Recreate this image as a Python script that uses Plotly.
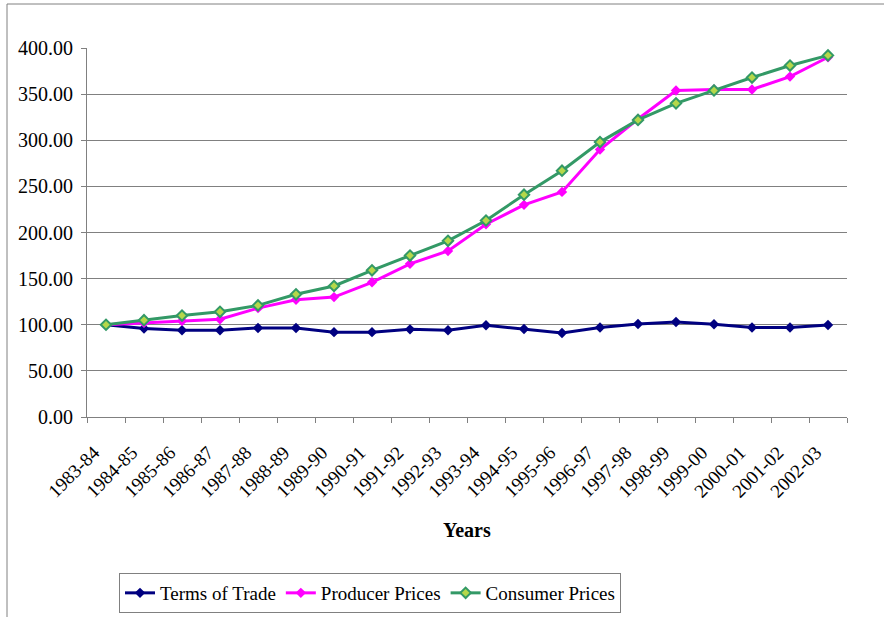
import plotly.graph_objects as go

years = ["1983-84", "1984-85", "1985-86", "1986-87", "1987-88", "1988-89", "1989-90",
         "1990-91", "1991-92", "1992-93", "1993-94", "1994-95", "1995-96", "1996-97",
         "1997-98", "1998-99", "1999-00", "2000-01", "2001-02", "2002-03"]

terms_of_trade = [100, 96, 94, 94, 96.5, 96.5, 92, 92, 95, 94, 99.4, 95.4, 91, 97,
                  100.8, 103, 100.5, 97, 97, 99.7]
producer_prices = [100, 102, 104, 106, 118, 127, 130, 146, 166, 180, 209, 230, 244, 290,
                   323, 354, 355, 355, 369, 390]
consumer_prices = [100, 105, 110, 114, 121, 133, 142, 159, 175, 191, 213, 241, 267, 298,
                   322, 340, 354, 368, 381, 392]

y_ticks = [0, 50, 100, 150, 200, 250, 300, 350, 400]

W, H = 884, 617
L, R, T, B = 87, 37, 48, 200
pw, ph = W - L - R, H - T - B

font = "Liberation Serif, Times New Roman, serif"

fig = go.Figure()
fig.add_trace(go.Scatter(
    x=years, y=terms_of_trade, name="Terms of Trade", mode="lines+markers",
    line=dict(color="#000080", width=3),
    marker=dict(symbol="diamond", size=8, color="#000080")))
fig.add_trace(go.Scatter(
    x=years, y=producer_prices, name="Producer Prices", mode="lines+markers",
    line=dict(color="#FF00FF", width=3),
    marker=dict(symbol="diamond", size=8, color="#FF00FF")))
fig.add_trace(go.Scatter(
    x=years, y=consumer_prices, name="Consumer Prices", mode="lines+markers",
    line=dict(color="#339966", width=3),
    marker=dict(symbol="diamond", size=8, color="#B5D84A",
                line=dict(color="#339966", width=2))))

def px_to_paper_x(px):
    return (px - L) / pw

def px_to_paper_y(py):
    return (H - B - py) / ph

fig.update_layout(
    width=W, height=H,
    margin=dict(l=L, r=R, t=T, b=B, autoexpand=False),
    paper_bgcolor="white", plot_bgcolor="white",
    font=dict(family=font, size=18, color="black"),
    showlegend=True,
    legend=dict(
        orientation="h", x=px_to_paper_x(119), xanchor="left",
        y=px_to_paper_y(573), yanchor="top",
        bordercolor="#808080", borderwidth=1,
        font=dict(family=font, size=19, color="black"),
        itemwidth=30, tracegroupgap=0,
    ),
    xaxis=dict(
        type="category", range=[-0.5, len(years) - 0.5],
        tickangle=-45, tickson="boundaries",
        ticks="outside", ticklen=5, tickcolor="#808080",
        ticklabelstandoff=16, ticklabelshift=-12,
        showline=True, linecolor="#808080", linewidth=1,
        showgrid=False, tickfont=dict(family=font, size=19),
        automargin=False,
    ),
    yaxis=dict(
        range=[0, 400], tickvals=y_ticks,
        ticktext=[f"{v:.2f}" for v in y_ticks],
        ticks="outside", ticklen=5, tickcolor="#808080",
        ticklabelstandoff=4,
        showline=True, linecolor="#808080", linewidth=1,
        showgrid=True, gridcolor="#808080", gridwidth=1,
        zeroline=False, tickfont=dict(family=font, size=20),
        automargin=False,
    ),
    annotations=[
        dict(text="<b>Years</b>", xref="paper", yref="paper",
             x=0.5, y=px_to_paper_y(530), xanchor="center", yanchor="middle",
             showarrow=False, font=dict(family=font, size=20, color="black")),
    ],
    shapes=[
        dict(type="line", xref="paper", yref="paper",
             x0=px_to_paper_x(7), x1=px_to_paper_x(7),
             y0=px_to_paper_y(4), y1=px_to_paper_y(617),
             line=dict(color="#808080", width=1)),
        dict(type="line", xref="paper", yref="paper",
             x0=px_to_paper_x(7), x1=px_to_paper_x(884),
             y0=px_to_paper_y(4), y1=px_to_paper_y(4),
             line=dict(color="#808080", width=1)),
    ],
)

fig.write_html("out.html")
